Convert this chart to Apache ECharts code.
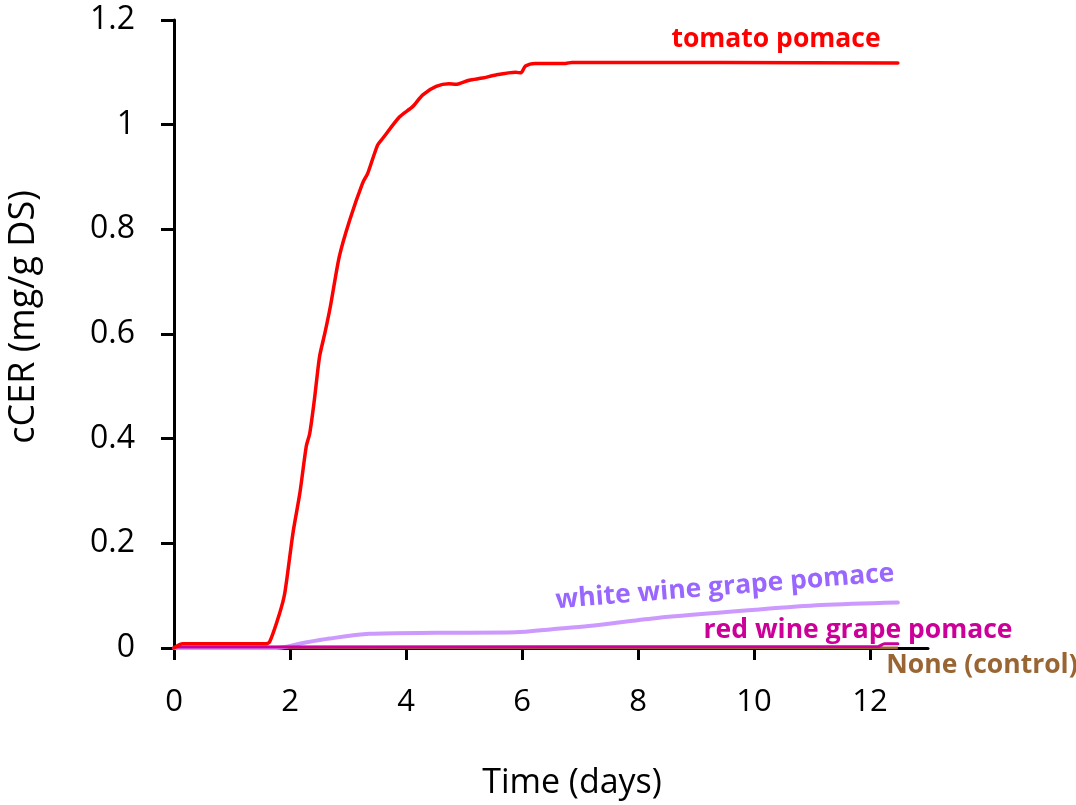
<!DOCTYPE html>
<html>
<head>
<meta charset="utf-8">
<script src="https://cdn.jsdelivr.net/npm/echarts@6/dist/echarts.min.js"></script>
<style>
  html, body { margin: 0; padding: 0; background: #fff; }
  #chart { width: 1076px; height: 805px; }
</style>
</head>
<body>
<div id="chart"></div>
<script>
// Cumulative CO2 evolution (cCER) per substrate, days vs mg/g DS
const tomatoDays   = [0, 0.15, 1.58, 1.65, 1.82, 1.91, 2.05, 2.17, 2.28, 2.34, 2.42, 2.51, 2.6, 2.7, 2.85, 3.03, 3.25, 3.34, 3.51, 3.6, 3.89, 4.11, 4.29, 4.52, 4.74, 4.86, 5.09, 5.32, 5.55, 5.89, 5.98, 6.06, 6.23, 6.75, 6.86, 12.48];
const tomatoValues = [0, 0.008, 0.008, 0.012, 0.066, 0.105, 0.219, 0.296, 0.385, 0.41, 0.474, 0.557, 0.601, 0.655, 0.748, 0.818, 0.888, 0.907, 0.961, 0.974, 1.015, 1.034, 1.057, 1.073, 1.078, 1.077, 1.085, 1.089, 1.095, 1.1, 1.099, 1.112, 1.117, 1.117, 1.119, 1.118];

const whiteDays   = [0, 1.77, 2.2, 2.68, 3.37, 4.52, 5.89, 6.52, 7.15, 8.3, 10.02, 11.16, 12.48];
const whiteValues = [0, 0, 0.009, 0.018, 0.027, 0.029, 0.03, 0.036, 0.042, 0.057, 0.073, 0.082, 0.087];

const redDays   = [0, 12.14, 12.25, 12.48];
const redValues = [0.002, 0.003, 0.008, 0.008];

const controlDays   = [0, 12.48];
const controlValues = [0, 0];

const xTickValues = [0, 2, 4, 6, 8, 10, 12];

const seriesNames = ['tomato pomace', 'white wine grape pomace', 'red wine grape pomace', 'None (control)'];
const xTitle = 'Time (days)';
const yTitle = 'cCER (mg/g DS)';

function pairs(xs, ys) { return xs.map((x, i) => [x, ys[i]]); }

const FONT = '"Open Sans", "Noto Sans", sans-serif';

const chart = echarts.init(document.getElementById('chart'), null, { renderer: 'canvas' });

chart.setOption({
  animation: false,
  backgroundColor: '#ffffff',
  grid: { left: 174, top: 20, right: 148, bottom: 157, containLabel: false, outerBoundsMode: 'none' },
  xAxis: {
    type: 'value',
    min: 0, max: 13, interval: 2,
    name: xTitle,
    nameLocation: 'middle',
    nameGap: 118,
    nameTextStyle: { fontFamily: FONT, fontSize: 34, color: '#000', padding: [0, 0, 0, 42] },
    axisLine: { show: true, onZero: false, lineStyle: { color: '#000', width: 3 } },
    axisTick: { show: true, inside: false, length: 12, lineStyle: { color: '#000', width: 3 }, customValues: xTickValues },
    axisLabel: { fontFamily: FONT, fontSize: 31, color: '#000', margin: 54, verticalAlign: 'middle', customValues: xTickValues },
    splitLine: { show: false }
  },
  yAxis: {
    type: 'value',
    min: 0, max: 1.2, interval: 0.2,
    name: yTitle,
    nameLocation: 'middle',
    nameGap: 132,
    nameRotate: 90,
    nameTextStyle: { fontFamily: FONT, fontSize: 36, color: '#000', padding: [0, 0, 0, 34] },
    axisLine: { show: true, lineStyle: { color: '#000', width: 3 } },
    axisTick: { show: true, inside: false, length: 13, lineStyle: { color: '#000', width: 3 } },
    axisLabel: { fontFamily: FONT, fontSize: 32, color: '#000', margin: 39 },
    splitLine: { show: false }
  },
  series: [
    {
      name: seriesNames[3], type: 'line', showSymbol: false,
      data: pairs(controlDays, controlValues),
      lineStyle: { color: '#996633', width: 3 }, z: 2
    },
    {
      name: seriesNames[1], type: 'line', showSymbol: false, smooth: 0.3,
      data: pairs(whiteDays, whiteValues),
      lineStyle: { color: '#CC99FF', width: 4, cap: 'round' }, z: 3
    },
    {
      name: seriesNames[2], type: 'line', showSymbol: false, smooth: 0.3,
      data: pairs(redDays, redValues),
      lineStyle: { color: '#CC0099', width: 3, cap: 'round' }, z: 4
    },
    {
      name: seriesNames[0], type: 'line', showSymbol: false, smooth: 0.25,
      data: pairs(tomatoDays, tomatoValues),
      lineStyle: { color: '#FF0000', width: 3.5, cap: 'round' }, z: 5
    }
  ],
  graphic: [
    {
      type: 'text', x: 776, y: 39,
      style: { text: seriesNames[0], fill: '#FF0000', font: 'bold 26.5px ' + FONT, align: 'center', verticalAlign: 'middle' }
    },
    {
      type: 'text', x: 725, y: 587, rotation: 4.6 * Math.PI / 180,
      style: { text: seriesNames[1], fill: '#9966FF', font: 'bold 26.5px ' + FONT, align: 'center', verticalAlign: 'middle' }
    },
    {
      type: 'text', x: 858, y: 630,
      style: { text: seriesNames[2], fill: '#CC0099', font: 'bold 26.5px ' + FONT, align: 'center', verticalAlign: 'middle' }
    },
    {
      type: 'text', x: 982, y: 665,
      style: { text: seriesNames[3], fill: '#996633', font: 'bold 26.5px ' + FONT, align: 'center', verticalAlign: 'middle' }
    }
  ]
});
</script>
</body>
</html>
